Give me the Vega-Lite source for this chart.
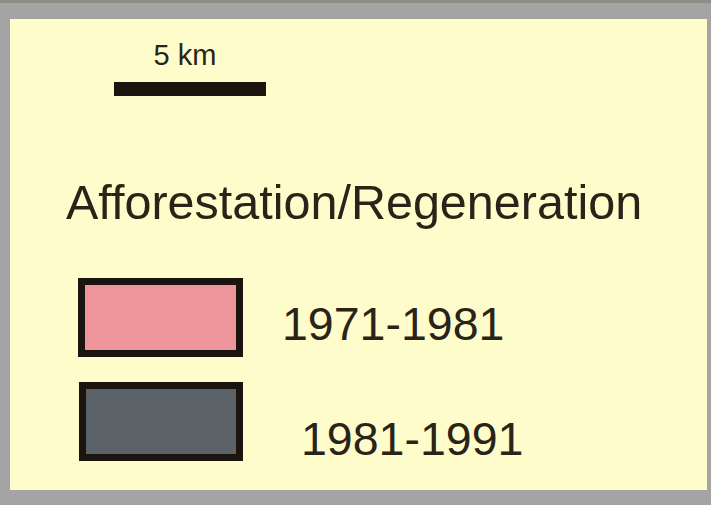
{
  "$schema": "https://vega.github.io/schema/vega-lite/v6.json",
  "autosize": {"type": "fit", "contains": "padding"},
  "width": 711,
  "height": 505,
  "padding": 0,
  "background": "#a4a4a4",
  "config": {"view": {"stroke": null}},
  "datasets": {
    "panels": [
      {"item": "strip", "x0": 0, "x1": 711, "y0": 0, "y1": 3},
      {"item": "paper", "x0": 10, "x1": 707, "y0": 19, "y1": 490},
      {"item": "scalebar", "x0": 114, "x1": 266, "y0": 82, "y1": 96}
    ],
    "boxes": [
      {"period": "1971-1981", "x0": 81.5, "x1": 239.5, "y0": 281.5, "y1": 353.5},
      {"period": "1981-1991", "x0": 82.5, "x1": 239.5, "y0": 385.5, "y1": 457.5}
    ],
    "texts": [
      {"role": "scale", "label": "5 km", "x": 185, "y": 65},
      {"role": "title", "label": "Afforestation/Regeneration", "x": 66, "y": 219},
      {"role": "item", "label": "1971-1981", "x": 282, "y": 340},
      {"role": "item", "label": "1981-1991", "x": 301, "y": 455}
    ]
  },
  "layer": [
    {
      "data": {"name": "panels"},
      "mark": {"type": "rect"},
      "encoding": {
        "x": {"field": "x0", "type": "quantitative", "scale": {"domain": [0, 711], "nice": false, "zero": false}, "axis": null},
        "x2": {"field": "x1"},
        "y": {"field": "y0", "type": "quantitative", "scale": {"domain": [0, 505], "nice": false, "zero": false, "reverse": true}, "axis": null},
        "y2": {"field": "y1"},
        "color": {"field": "item", "type": "nominal", "legend": null,
          "scale": {"domain": ["strip", "paper", "scalebar", "1971-1981", "1981-1991"], "range": ["#8b8e83", "#fffccb", "#1c150f", "#ee959b", "#5b6369"]}}
      }
    },
    {
      "data": {"name": "boxes"},
      "mark": {"type": "rect", "stroke": "#1c150f", "strokeWidth": 7, "strokeJoin": "miter"},
      "encoding": {
        "x": {"field": "x0", "type": "quantitative"},
        "x2": {"field": "x1"},
        "y": {"field": "y0", "type": "quantitative"},
        "y2": {"field": "y1"},
        "color": {"field": "period", "type": "nominal", "legend": null}
      }
    },
    {
      "data": {"name": "texts"},
      "transform": [{"filter": "datum.role === 'scale'"}],
      "mark": {"type": "text", "font": "Liberation Sans", "fontSize": 29, "align": "center", "baseline": "alphabetic", "color": "#2a2418"},
      "encoding": {
        "x": {"field": "x", "type": "quantitative"},
        "y": {"field": "y", "type": "quantitative"},
        "text": {"field": "label"}
      }
    },
    {
      "data": {"name": "texts"},
      "transform": [{"filter": "datum.role === 'title'"}],
      "mark": {"type": "text", "font": "Liberation Sans", "fontSize": 48.5, "align": "left", "baseline": "alphabetic", "color": "#2a2418"},
      "encoding": {
        "x": {"field": "x", "type": "quantitative"},
        "y": {"field": "y", "type": "quantitative"},
        "text": {"field": "label"}
      }
    },
    {
      "data": {"name": "texts"},
      "transform": [{"filter": "datum.role === 'item'"}],
      "mark": {"type": "text", "font": "Liberation Sans", "fontSize": 46.5, "align": "left", "baseline": "alphabetic", "color": "#2a2418"},
      "encoding": {
        "x": {"field": "x", "type": "quantitative"},
        "y": {"field": "y", "type": "quantitative"},
        "text": {"field": "label"}
      }
    }
  ]
}
